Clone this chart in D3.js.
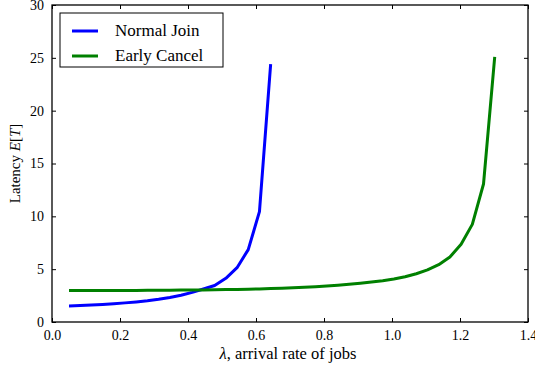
<!DOCTYPE html>
<html>
<head>
<meta charset="utf-8">
<script src="https://cdn.jsdelivr.net/npm/d3@7"></script>
<style>
  body { margin: 0; background: #fff; }
  text { font-family: "Liberation Serif", "DejaVu Serif", serif; fill: #000; }
</style>
</head>
<body>
<div id="chart"></div>
<script>
//Data
var step = 0.03295;
var normalJoin = [1.51, 1.55, 1.60, 1.66, 1.73, 1.81, 1.90, 2.01, 2.15, 2.32,
                  2.53, 2.80, 3.12, 3.45, 4.13, 5.14, 6.85, 10.44, 24.4];
var earlyCancel = [2.97, 2.97, 2.98, 2.98, 2.98, 2.99, 2.99, 3.00, 3.00, 3.01,
                   3.02, 3.03, 3.04, 3.05, 3.07, 3.08, 3.10, 3.13, 3.16, 3.19,
                   3.23, 3.28, 3.33, 3.40, 3.48, 3.57, 3.67, 3.78, 3.91, 4.07,
                   4.28, 4.57, 4.93, 5.42, 6.15, 7.35, 9.24, 13.06, 25.1];
var xTicks = [0.0, 0.2, 0.4, 0.6, 0.8, 1.0, 1.2, 1.4];
var yTicks = [0, 5, 10, 15, 20, 25, 30];
var seriesNames = ["Normal Join", "Early Cancel"];
var seriesColors = ["#0000ff", "#008000"];

//Sizes
var width = 535, height = 371;
var margin = {top: 5, right: 7, bottom: 49, left: 52};
var w = width - margin.left - margin.right;
var h = height - margin.top - margin.bottom;

var svg = d3.select("#chart").append("svg")
    .attr("width", width).attr("height", height);
var g = svg.append("g")
    .attr("transform", "translate(" + margin.left + "," + margin.top + ")");

var x = d3.scaleLinear().domain([0, 1.4]).range([0, w]);
var y = d3.scaleLinear().domain([0, 30]).range([h, 0]);

function toPoints(vals) {
  return vals.map(function(v, i) { return {lam: 0.05 + i * step, val: v}; });
}

var line = d3.line()
    .x(function(d) { return x(d.lam); })
    .y(function(d) { return y(d.val); });

//Clip the lines to the plot area
g.append("clipPath").attr("id", "clip")
  .append("rect").attr("width", w).attr("height", h);

[normalJoin, earlyCancel].forEach(function(vals, i) {
  g.append("path")
    .datum(toPoints(vals))
    .attr("clip-path", "url(#clip)")
    .attr("fill", "none")
    .attr("stroke", seriesColors[i])
    .attr("stroke-width", 3)
    .attr("stroke-linejoin", "round")
    .attr("d", line);
});

//Axes: ticks inside, on all four sides
var fmtX = d3.format(".1f");
function styleAxis(sel) {
  sel.select(".domain").remove();
  sel.selectAll(".tick line").attr("stroke", "#000").attr("stroke-width", 1);
  sel.selectAll("text").style("font-size", "14px");
}
g.append("g").attr("transform", "translate(0," + h + ")")
  .call(d3.axisBottom(x).tickValues(xTicks).tickFormat(fmtX).tickSizeInner(-4).tickPadding(8))
  .call(styleAxis);
g.append("g")
  .call(d3.axisTop(x).tickValues(xTicks).tickSizeInner(-4).tickFormat(""))
  .call(styleAxis);
g.append("g")
  .call(d3.axisLeft(y).tickValues(yTicks).tickSizeInner(-4).tickPadding(8))
  .call(styleAxis);
g.append("g").attr("transform", "translate(" + w + ",0)")
  .call(d3.axisRight(y).tickValues(yTicks).tickSizeInner(-4).tickFormat(""))
  .call(styleAxis);

//Frame
g.append("rect")
  .attr("width", w).attr("height", h)
  .attr("fill", "none").attr("stroke", "#000").attr("stroke-width", 1.3);

//Axis labels
var xl = svg.append("text")
  .attr("x", margin.left + w / 2 - 2).attr("y", 359)
  .attr("text-anchor", "middle").style("font-size", "16.5px");
xl.append("tspan").style("font-style", "italic").text("λ");
xl.append("tspan").text(", arrival rate of jobs");

var yl = svg.append("text")
  .attr("transform", "translate(20," + (margin.top + h / 2) + ") rotate(-90)")
  .attr("text-anchor", "middle").style("font-size", "15px");
yl.append("tspan").text("Latency ");
yl.append("tspan").style("font-style", "italic").text("E");
yl.append("tspan").text("[");
yl.append("tspan").style("font-style", "italic").text("T");
yl.append("tspan").text("]");

//Legend
var legend = g.append("g").attr("transform", "translate(8,8)");
legend.append("rect")
  .attr("width", 163).attr("height", 54)
  .attr("fill", "#fff").attr("stroke", "#000").attr("stroke-width", 1);
seriesNames.forEach(function(name, i) {
  var yy = 18 + i * 25;
  legend.append("line")
    .attr("x1", 12).attr("x2", 38).attr("y1", yy).attr("y2", yy)
    .attr("stroke", seriesColors[i]).attr("stroke-width", 3);
  legend.append("text")
    .attr("x", 55).attr("y", yy + 5)
    .style("font-size", "17px")
    .text(name);
});
</script>
</body>
</html>
